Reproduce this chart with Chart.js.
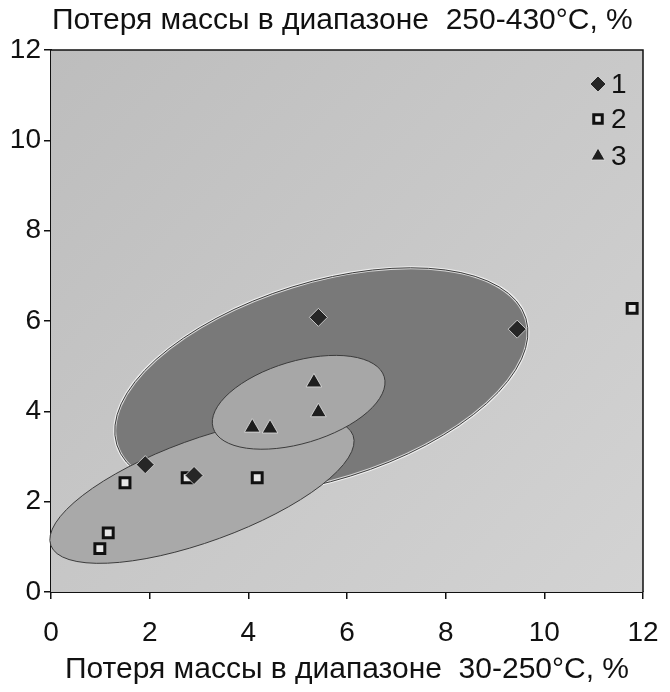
<!DOCTYPE html>
<html lang="ru">
<head>
  <meta charset="UTF-8" />
  <title>Потеря массы</title>
  <script src="https://cdn.jsdelivr.net/npm/chart.js"></script>
  <style>
    html, body { margin: 0; padding: 0; background: #fff; }
    #wrap { width: 670px; height: 692px; }
  </style>
</head>
<body>
  <div id="wrap"><canvas id="chart" width="670" height="692"></canvas></div>

  <script>
    // потеря массы 30-250°C (x) и 250-430°C (y), %
    const group1X = [5.42, 1.91, 2.9, 9.45];
    const group1Y = [6.08, 2.82, 2.58, 5.82];
    const group2X = [1.5, 1.16, 0.99, 2.76, 4.18, 11.78];
    const group2Y = [2.42, 1.31, 0.96, 2.53, 2.53, 6.28];
    const group3X = [5.33, 5.42, 4.08, 4.44];
    const group3Y = [4.64, 3.98, 3.64, 3.62];
    const seriesNames = ["1", "2", "3"];
    const axisTicks = [0, 2, 4, 6, 8, 10, 12];

    const xTitle = "Потеря массы в диапазоне  30-250°C, %";
    const yTitle = "Потеря массы в диапазоне  250-430°C, %";

    // области групп: центр в единицах осей, полуоси (большая по x, малая по y), наклон в градусах
    const zones = [
      { cx: 5.48, cy: 4.66, rx: 4.34, ry: 2.19, tilt: 17.2, fill: "#797979", halo: true },
      { cx: 3.06, cy: 2.25, rx: 3.26, ry: 1.13, tilt: 20, fill: "#a9a9a9", halo: false },
      { cx: 5.02, cy: 4.2, rx: 1.81, ry: 0.91, tilt: 16.6, fill: "#a7a7a7", halo: false }
    ];

    const FONT = "'Liberation Sans', Arial, sans-serif";

    const toPoints = (xs, ys) => xs.map((x, i) => ({ x, y: ys[i] }));

    const pointStyles = [
      { pointStyle: "rectRot", radius: 9, backgroundColor: "#262626", borderColor: "rgba(225,225,225,0.8)", borderWidth: 1 },
      { pointStyle: "rect", radius: 7, backgroundColor: "#e6e6e6", borderColor: "#111111", borderWidth: 3 },
      { pointStyle: "triangle", radius: 9, backgroundColor: "#1e1e1e", borderColor: "rgba(225,225,225,0.8)", borderWidth: 1 }
    ];

    // фон области построения и эллипсы групп
    const zonePlugin = {
      id: "zones",
      beforeDatasetsDraw(chart) {
        const { ctx, chartArea: a, scales: { x, y } } = chart;
        ctx.save();
        const g = ctx.createLinearGradient(a.left, a.top, a.right, a.bottom);
        g.addColorStop(0, "#bdbdbd");
        g.addColorStop(1, "#d3d3d3");
        ctx.fillStyle = g;
        ctx.fillRect(a.left, a.top, a.right - a.left, a.bottom - a.top);

        const ux = Math.abs(x.getPixelForValue(1) - x.getPixelForValue(0));
        const uy = Math.abs(y.getPixelForValue(1) - y.getPixelForValue(0));
        zones.forEach(z => {
          const px = x.getPixelForValue(z.cx);
          const py = y.getPixelForValue(z.cy);
          ctx.beginPath();
          ctx.ellipse(px, py, z.rx * ux, z.ry * uy, -z.tilt * Math.PI / 180, 0, Math.PI * 2);
          ctx.fillStyle = z.fill;
          ctx.fill();
          if (z.halo) {
            ctx.strokeStyle = "rgba(255,255,255,0.7)";
            ctx.lineWidth = 3;
            ctx.stroke();
          }
          ctx.strokeStyle = "#3c3c3c";
          ctx.lineWidth = 1;
          ctx.stroke();
        });
        ctx.restore();
      },
      afterDraw(chart) {
        const { ctx, chartArea: a } = chart;
        ctx.save();
        // верхняя и правая рамки
        ctx.strokeStyle = "#111";
        ctx.lineWidth = 1.5;
        ctx.beginPath();
        ctx.moveTo(a.left, a.top);
        ctx.lineTo(a.right, a.top);
        ctx.lineTo(a.right, a.bottom);
        ctx.stroke();

        // подпись оси Y над графиком
        ctx.fillStyle = "#111";
        ctx.font = "30px " + FONT;
        ctx.textAlign = "left";
        ctx.textBaseline = "alphabetic";
        ctx.fillText(yTitle, a.left + 1, 29);

        // легенда в правом верхнем углу
        const lx = a.right - 45;
        const ly = [84, 119, 156];
        seriesNames.forEach((name, i) => {
          const st = pointStyles[i];
          ctx.fillStyle = st.backgroundColor;
          ctx.strokeStyle = st.borderColor;
          ctx.lineWidth = st.borderWidth;
          Chart.helpers.drawPoint(ctx, {
            pointStyle: st.pointStyle,
            radius: st.radius - 1,
            rotation: 0,
            borderWidth: st.borderWidth
          }, lx, ly[i]);
          ctx.fillStyle = "#111";
          ctx.font = "28px " + FONT;
          ctx.textBaseline = "middle";
          ctx.fillText(name, lx + 13, ly[i] + 1);
        });
        ctx.restore();
      }
    };

    const datasets = [
      toPoints(group1X, group1Y),
      toPoints(group2X, group2Y),
      toPoints(group3X, group3Y)
    ].map((data, i) => ({
      label: seriesNames[i],
      data,
      showLine: false,
      pointStyle: pointStyles[i].pointStyle,
      pointRadius: pointStyles[i].radius,
      pointHoverRadius: pointStyles[i].radius,
      pointBackgroundColor: pointStyles[i].backgroundColor,
      pointBorderColor: pointStyles[i].borderColor,
      pointBorderWidth: pointStyles[i].borderWidth
    }));

    const axisBase = {
      type: "linear",
      min: axisTicks[0],
      max: axisTicks[axisTicks.length - 1],
      afterBuildTicks: s => { s.ticks = axisTicks.map(v => ({ value: v })); },
      grid: { drawOnChartArea: false, drawTicks: true, tickLength: 7, color: "#111", lineWidth: 1.5 },
      border: { display: true, color: "#111", width: 2 }
    };

    new Chart(document.getElementById("chart"), {
      type: "scatter",
      data: { datasets },
      plugins: [zonePlugin],
      options: {
        responsive: false,
        animation: false,
        events: [],
        layout: { padding: { top: 50, right: 27, left: 0, bottom: 0 } },
        plugins: { legend: { display: false }, title: { display: false }, tooltip: { enabled: false } },
        scales: {
          x: {
            ...axisBase,
            position: "bottom",
            // отступ подписей вниз не должен сужать область построения
            afterFit: s => { s.height = 100; s.paddingRight = 16; s.paddingLeft = 0; },
            ticks: { color: "#111", font: { family: FONT, size: 28 }, padding: 17, maxRotation: 0 },
            title: { display: true, text: xTitle, color: "#111", font: { family: FONT, size: 30 }, padding: { top: 0, bottom: 4 } }
          },
          y: {
            ...axisBase,
            position: "left",
            afterFit: s => { s.width = 51; },
            ticks: { color: "#111", font: { family: FONT, size: 28 }, padding: 3 }
          }
        }
      }
    });
  </script>
</body>
</html>
